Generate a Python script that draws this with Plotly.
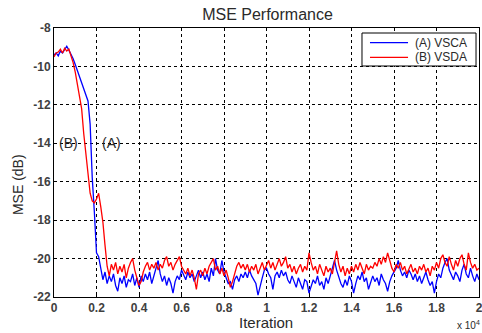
import plotly.graph_objects as go

# Iteration axis in units of 10^4 (one sample every 100 iterations)
iteration_x1e4 = [round(i * 0.01, 2) for i in range(201)]

mse_vsca_db = [
    -9.4, -9.3, -9.45, -9.2, -9.3, -9.1, -8.95, -9.15, -9.35, -9.6,
    -9.9, -10.2, -10.5, -10.8, -11.2, -11.5, -11.8, -13.0, -15.8, -17.6,
    -19.7, -19.9, -20.6, -21.1, -20.7, -21.3, -20.9, -21.2, -20.8, -21.4,
    -21.7, -21.0, -21.3, -20.9, -21.5, -21.1, -21.2, -20.8, -21.4, -21.0,
    -21.5, -20.9, -21.2, -20.8, -21.1, -20.7, -21.3, -20.9, -20.4, -20.1,
    -20.8, -21.2, -20.9, -21.4, -21.0, -21.3, -21.8, -21.2, -20.9, -21.1,
    -20.6, -20.9, -21.1, -20.7, -21.0, -20.8, -21.2, -20.9, -20.6, -21.0,
    -20.7, -21.1, -20.8, -21.2, -20.5, -20.9, -20.0, -20.6, -20.8, -20.1,
    -20.7, -21.0, -21.3, -21.2, -21.6, -21.1, -20.9, -21.2, -20.8, -21.0,
    -20.7, -21.0, -20.6, -20.9, -21.1, -21.3, -21.9, -21.4, -21.0, -20.6,
    -20.5, -20.8, -21.0, -21.6, -20.9, -20.7, -21.0, -20.6, -20.9, -20.7,
    -21.1, -21.3, -20.9, -21.2, -21.5, -21.0, -21.3, -21.6, -21.1, -21.2,
    -21.8, -21.5, -21.1, -21.3, -20.9, -21.4, -21.2, -21.6, -21.0, -21.3,
    -20.9, -20.4, -20.1, -20.6, -21.0, -21.3, -21.5, -21.1, -21.4, -20.9,
    -21.2, -21.8, -21.3, -20.9, -21.1, -20.7, -21.2, -21.0, -21.6, -21.2,
    -20.9, -21.2, -21.0, -21.4, -20.8, -21.1, -21.3, -21.7, -21.2, -20.9,
    -20.7, -20.5, -20.1, -20.6, -20.9, -20.7, -21.0, -20.6, -20.8, -21.1,
    -20.8, -21.2, -20.9, -21.3, -21.0, -20.7, -21.1, -21.4, -21.2, -21.8,
    -21.2, -20.8, -21.0, -20.5, -20.2, -20.0, -20.6, -20.9, -21.1, -20.7,
    -20.9, -21.2, -20.6, -20.3, -20.8, -21.0, -20.5, -20.9, -21.2, -20.8,
    -21.1,
]

mse_vsda_db = [
    -9.5, -9.3, -9.25, -9.1, -9.3, -9.05, -9.2, -9.1, -9.45, -9.8,
    -10.3, -11.0, -11.6, -12.2, -13.5, -14.6, -15.6, -16.6, -17.0, -17.1,
    -16.9, -16.6, -17.3, -18.1, -19.3, -20.4, -20.9, -20.3, -20.6, -20.2,
    -20.8, -20.4, -20.7, -20.3, -21.0, -20.5, -20.2, -20.0, -20.6, -21.0,
    -21.4, -21.2, -20.7, -20.4, -20.2, -20.6, -20.3, -20.5, -20.2, -20.6,
    -20.3, -20.5, -20.1, -19.9, -20.4, -20.2, -20.6, -20.3, -20.1, -19.9,
    -20.4, -20.6, -20.8, -20.5, -20.9, -20.6, -21.0, -21.6, -20.8, -20.6,
    -20.9, -20.5, -20.8, -20.4, -20.2, -20.0, -20.6, -20.4, -20.8, -20.5,
    -20.9, -20.6, -21.0, -21.5, -21.2, -20.8, -20.4, -20.2, -20.5, -20.3,
    -20.6, -20.3, -20.7, -20.4, -20.6, -20.3, -20.8, -20.5, -20.2, -20.6,
    -20.3, -20.1, -20.5, -20.2, -20.6, -20.3, -20.0, -20.4, -20.2, -19.9,
    -20.5, -20.3, -20.7, -20.4, -20.8, -20.5, -20.3, -20.7, -20.4, -20.6,
    -19.7, -20.2, -20.6, -20.4, -20.8, -20.3, -20.6, -20.9, -20.4, -20.7,
    -20.5, -20.8, -20.2, -19.6, -20.3, -20.7, -20.4, -20.9, -20.5, -20.8,
    -20.4, -20.7, -20.3, -20.6, -20.2, -20.5, -20.8, -20.3, -20.6, -20.4,
    -20.5, -20.2, -20.4, -20.0, -20.3, -19.9, -20.2, -19.7, -20.1, -20.5,
    -20.7, -20.3, -20.5, -20.2, -20.6, -20.4, -20.8, -20.5, -20.3, -20.7,
    -20.5, -20.8, -20.4, -20.6, -20.3, -20.7, -20.5, -20.9, -20.4, -20.6,
    -20.2, -20.5, -20.0, -19.8, -20.2, -20.4, -19.9, -20.3, -20.6, -20.1,
    -20.4, -20.0, -19.8, -20.3, -20.6, -19.7, -20.2, -20.5, -20.3, -20.6,
    -20.5,
]

series_names = ["(A) VSCA", "(B) VSDA"]
series_colors = ["#0000ff", "#ff0000"]
x_tick_vals = [0, 0.2, 0.4, 0.6, 0.8, 1.0, 1.2, 1.4, 1.6, 1.8, 2.0]
x_tick_text = ["0", "0.2", "0.4", "0.6", "0.8", "1", "1.2", "1.4", "1.6", "1.8", "2"]
y_tick_vals = [-22, -20, -18, -16, -14, -12, -10, -8]
y_tick_text = ["-22", "-20", "-18", "-16", "-14", "-12", "-10", "-8"]

FONT = "Liberation Sans, Arial, sans-serif"
TXT = "#2a2a2a"

fig = go.Figure()
for yv, nm, col in zip([mse_vsca_db, mse_vsda_db], series_names, series_colors):
    fig.add_trace(go.Scatter(x=iteration_x1e4, y=yv, mode="lines", name=nm,
                             line=dict(color=col, width=1.3), showlegend=False))

axis_common = dict(
    showline=True, linecolor="#000000", linewidth=1, mirror=True,
    ticks="inside", ticklen=3, tickcolor="#000000",
    showgrid=True, gridcolor="#000000", gridwidth=1, griddash="dot",
    zeroline=False, automargin=False, ticklabeloverflow="allow",
    tickfont=dict(family=FONT, size=12, color="#404040", weight="bold"),
)

fig.update_xaxes(range=[0, 2], tickvals=x_tick_vals, ticktext=x_tick_text, **axis_common)
fig.update_yaxes(range=[-22, -8], tickvals=y_tick_vals, ticktext=y_tick_text, **axis_common)

# axis titles / multiplier
fig.add_annotation(x=0.499, y=0, xref="paper", yref="paper", yanchor="middle", yshift=-25,
                   text="Iteration", showarrow=False, font=dict(family=FONT, size=15, color=TXT))
fig.add_annotation(x=0, y=0.416, xref="paper", yref="paper", xanchor="center", xshift=-36,
                   text="MSE (dB)", textangle=-90, showarrow=False,
                   font=dict(family=FONT, size=14, color=TXT))
fig.add_annotation(x=1.0, y=0, xref="paper", yref="paper", xanchor="right", yanchor="middle",
                   xshift=3, yshift=-28, text="x 10<sup>4</sup>", showarrow=False,
                   font=dict(family=FONT, size=10, color=TXT))

# curve labels
fig.add_annotation(x=0.066, y=-14, text="(B)", showarrow=False, xref="x", yref="y",
                   font=dict(family=FONT, size=14, color=TXT))
fig.add_annotation(x=0.27, y=-14, text="(A)", showarrow=False, xref="x", yref="y",
                   font=dict(family=FONT, size=14, color=TXT))

# legend box (drawn)
fig.add_shape(type="rect", xref="paper", yref="paper", x0=0.7247, x1=0.993, y0=0.8587, y1=0.9814,
              line=dict(color="#000000", width=1), fillcolor="#ffffff", layer="above")
for i, (nm, col) in enumerate(zip(series_names, series_colors)):
    ly = 0.9454 - i * 0.0543
    fig.add_shape(type="line", xref="paper", yref="paper", x0=0.7435, x1=0.833, y0=ly, y1=ly,
                  line=dict(color=col, width=1.3), layer="above")
    fig.add_annotation(x=0.8447, y=ly, xref="paper", yref="paper", xanchor="left",
                       yanchor="middle", text=nm, showarrow=False,
                       font=dict(family=FONT, size=12, color=TXT))

fig.update_layout(
    width=482, height=333,
    margin=dict(l=54, r=3, t=28, b=36, autoexpand=False),
    paper_bgcolor="#ffffff", plot_bgcolor="#ffffff",
    title=dict(text="MSE Performance", x=0.555, xanchor="center", y=0.958, yanchor="middle",
               font=dict(family=FONT, size=16, color=TXT), automargin=False),
    showlegend=False,
)

fig.write_html("out.html", config={"displayModeBar": False},
               post_script="document.body.style.margin='0';document.body.style.overflow='hidden';")
